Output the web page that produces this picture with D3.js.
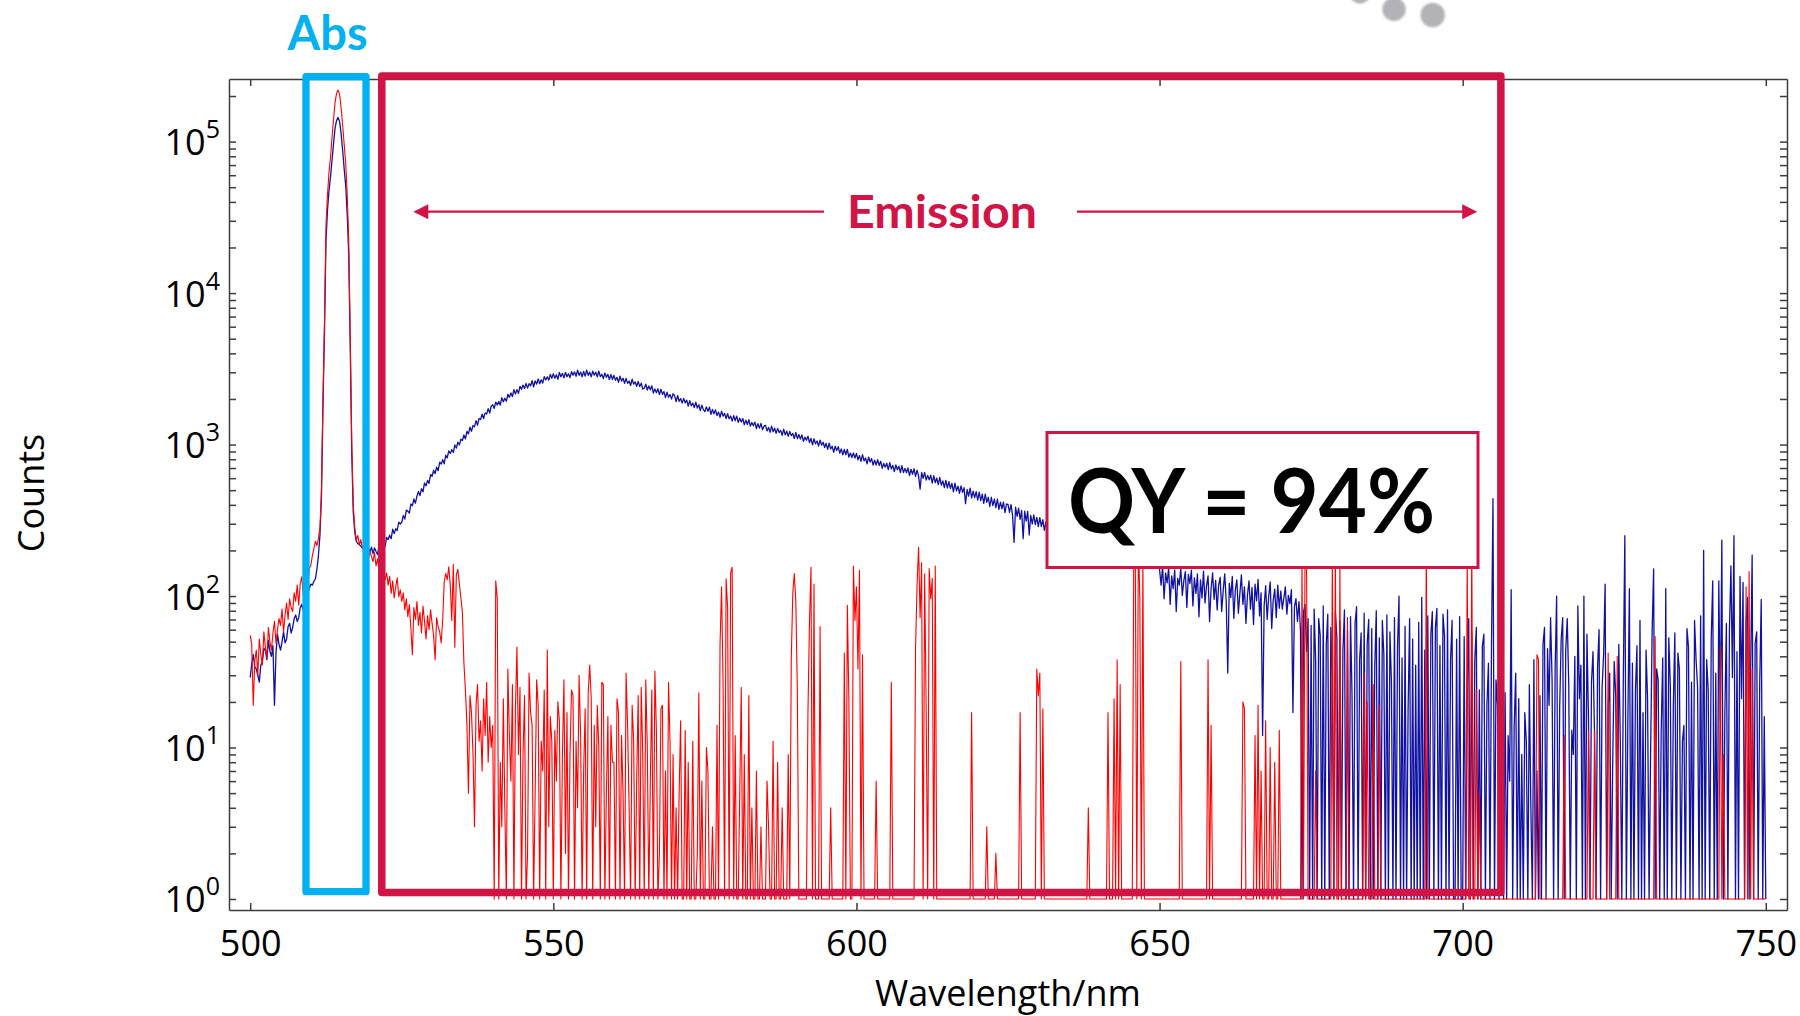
<!DOCTYPE html>
<html>
<head>
<meta charset="utf-8">
<script src="https://cdn.jsdelivr.net/npm/d3@7"></script>
<style>
  html, body { margin: 0; padding: 0; background: #ffffff; }
  svg { display: block; }
</style>
</head>
<body>
<svg id="chart" width="1800" height="1016"></svg>
<script>
// Spectrometer sampling grid (nm)
const startNm = 500;
const stepNm = 0.25;

// Sample spectrum (scattered excitation + emission), counts per channel, 500–750 nm
const sampleCounts = [
  29, 36, 41, 34, 33, 30, 27, 35, 37, 45, 44, 38, 51, 43, 40, 47, 19, 42, 56, 48,
  44, 50, 58, 49, 52, 63, 66, 57, 62, 71, 75, 68, 72, 84, 88, 80, 95, 102, 105, 112,
  120, 118, 125, 130, 150, 185, 251, 447, 1778, 5623, 22390, 35480, 47860, 58880, 75860, 97720, 123000, 138000, 144500, 134900,
  112200, 87100, 66070, 51290, 33110, 17780, 4467, 891, 355, 263, 230, 222, 218, 214, 208, 211, 204, 198, 207, 196,
  210, 191, 208, 197, 188, 216, 224, 206, 223, 212, 244, 236, 252, 239, 276, 259, 278, 271, 307, 299,
  307, 340, 322, 369, 363, 353, 405, 395, 438, 410, 456, 490, 460, 511, 487, 558, 534, 580, 554, 634,
  618, 676, 642, 709, 673, 764, 743, 794, 746, 850, 816, 909, 873, 926, 886, 993, 948, 1036, 994, 1086,
  1063, 1156, 1091, 1222, 1178, 1302, 1225, 1338, 1309, 1438, 1342, 1488, 1464, 1590, 1487, 1617, 1590, 1726, 1613, 1790,
  1831, 1733, 1905, 1823, 1926, 1820, 2042, 1915, 2024, 1932, 2148, 2054, 2192, 2074, 2303, 2159, 2304, 2178, 2421, 2316,
  2471, 2344, 2533, 2357, 2523, 2443, 2638, 2408, 2635, 2504, 2708, 2523, 2679, 2542, 2808, 2670, 2803, 2661, 2908, 2735,
  2931, 2740, 2889, 2698, 2993, 2801, 2952, 2760, 2999, 2805, 2929, 2763, 3033, 2866, 3020, 2822, 3095, 2862, 3010, 2803,
  3040, 2833, 3099, 2862, 3010, 2798, 3054, 2871, 3008, 2796, 3048, 2806, 2913, 2725, 2966, 2779, 2905, 2691, 2898, 2688,
  2864, 2656, 2776, 2572, 2827, 2622, 2741, 2539, 2735, 2537, 2626, 2456, 2699, 2504, 2591, 2425, 2612, 2415, 2543, 2326,
  2354, 2502, 2291, 2436, 2298, 2441, 2190, 2331, 2198, 2336, 2138, 2318, 2145, 2235, 2044, 2218, 2052, 2139, 1996, 2164,
  2103, 1924, 2107, 1930, 2012, 1878, 2018, 1885, 1964, 1796, 1950, 1803, 1880, 1754, 1903, 1742, 1834, 1678, 1821, 1701,
  1649, 1773, 1659, 1764, 1585, 1705, 1594, 1696, 1554, 1639, 1515, 1662, 1540, 1607, 1486, 1598, 1479, 1544, 1428, 1552,
  1435, 1542, 1401, 1492, 1410, 1486, 1348, 1451, 1358, 1460, 1325, 1398, 1334, 1406, 1276, 1374, 1284, 1381, 1254, 1323,
  1340, 1230, 1298, 1203, 1322, 1214, 1282, 1188, 1279, 1199, 1240, 1149, 1262, 1159, 1225, 1135, 1222, 1145, 1184, 1097,
  1205, 1093, 1165, 1088, 1159, 1051, 1120, 1068, 1136, 1031, 1098, 995, 1092, 1012, 1056, 976, 1071, 992, 1035, 957,
  1019, 931, 1021, 935, 974, 890, 977, 912, 969, 878, 935, 855, 928, 857, 930, 826, 879, 821, 881, 815,
  874, 793, 846, 774, 859, 780, 815, 745, 827, 766, 808, 733, 790, 731, 794, 728, 776, 697, 751, 709,
  753, 684, 759, 691, 729, 662, 735, 682, 720, 654, 725, 653, 696, 652, 701, 624, 687, 637, 692, 617,
  678, 621, 508, 654, 599, 656, 582, 626, 585, 628, 557, 623, 560, 601, 544, 608, 540, 575, 520, 581,
  516, 570, 513, 555, 488, 556, 495, 531, 477, 533, 483, 519, 407, 505, 457, 515, 445, 492, 446, 489,
  430, 485, 427, 471, 409, 471, 415, 449, 390, 449, 395, 437, 384, 437, 373, 417, 377, 417, 355, 405,
  403, 357, 402, 342, 226, 386, 336, 381, 321, 367, 239, 363, 312, 362, 253, 341, 299, 343, 296, 331,
  287, 329, 287, 319, 271, 308, 268, 305, 259, 295, 256, 291, 250, 285, 245, 278, 239, 272, 233, 265,
  255, 236, 250, 231, 246, 227, 241, 222, 238, 219, 233, 215, 229, 212, 226, 209, 222, 206, 218, 203,
  214, 196, 208, 191, 203, 186, 199, 182, 195, 179, 191, 176, 188, 172, 185, 170, 181, 168, 178, 166,
  180, 164, 176, 161, 172, 159, 170, 158, 168, 160, 165, 157, 171, 162, 166, 158, 163, 160, 167, 159,
  150, 118, 158, 96, 142, 122, 154, 88, 136, 112, 149, 79, 131, 118, 153, 101, 126, 145, 84, 139,
  121, 148, 86, 132, 104, 140, 73, 128, 97, 146, 90, 117, 136, 68, 112, 142, 95, 127, 81, 118,
  133, 79, 109, 140, 92, 31, 121, 98, 135, 71, 110, 128, 77, 104, 138, 88, 115, 66, 101, 126,
  82, 114, 65, 120, 93, 129, 74, 105, 12, 86, 117, 70, 99, 124, 61, 94, 111, 72, 118, 83,
  108, 82, 97, 115, 76, 101, 89, 110, 17, 85, 96, 68, 92, 58, 0, 79, 88, 43, 71, 0,
  64, 0, 82, 37, 0, 71, 55, 0, 86, 0, 48, 76, 0, 62, 29, 0, 79, 53, 0, 68,
  0, 44, 81, 0, 59, 0, 73, 22, 0, 66, 85, 0, 38, 57, 0, 77, 0, 49, 70, 0,
  61, 0, 34, 80, 0, 53, 0, 69, 41, 0, 75, 0, 58, 27, 0, 72, 0, 46, 100, 0,
  39, 0, 63, 0, 18, 71, 0, 52, 0, 35, 0, 67, 0, 98, 0, 44, 0, 74, 0, 56,
  79, 0, 62, 83, 0, 47, 0, 76, 55, 0, 81, 0, 38, 69, 0, 0, 52, 0, 73, 0,
  0, 54, 0, 23, 71, 0, 57, 0, 38, 62, 0, 24, 0, 47, 56, 0, 19, 36, 0, 44,
  440, 0, 28, 19, 0, 8, 41, 0, 23, 0, 12, 6, 110, 0, 14, 31, 0, 21, 0, 9,
  0, 17, 11, 0, 26, 4, 0, 38, 0, 7, 0, 22, 0, 48, 62, 0, 45, 19, 72, 28,
  0, 33, 100, 0, 18, 52, 72, 0, 44, 71, 26, 0, 13, 9, 40, 0, 86, 21, 35, 0,
  100, 0, 56, 16, 0, 27, 43, 12, 0, 34, 60, 0, 25, 41, 120, 0, 18, 31, 0, 8,
  37, 22, 0, 48, 11, 0, 29, 250, 0, 15, 112, 0, 36, 0, 24, 47, 0, 69, 0, 17,
  0, 44, 21, 0, 9, 58, 151, 0, 33, 28, 0, 13, 39, 0, 112, 0, 53, 26, 0, 19,
  57, 0, 42, 33, 0, 11, 14, 0, 61, 46, 0, 27, 0, 69, 38, 25, 0, 74, 0, 200,
  0, 38, 24, 0, 52, 126, 0, 31, 0, 126, 15, 234, 0, 17, 66, 0, 59, 158, 29, 250,
  0, 43, 0, 135, 21, 123, 0, 67, 98, 0, 32, 186, 0, 49, 58, 0, 27, 95, 0, 16,
  0
];

// Blank (solvent) reference spectrum, same grid
const blankCounts = [
  55, 48, 19, 37, 44, 30, 52, 41, 35, 58, 46, 39, 62, 50, 44, 57, 68, 49, 60, 71,
  64, 82, 58, 75, 90, 70, 96, 84, 79, 105, 92, 118, 87, 121, 134, 102, 128, 140, 118, 152,
  160, 185, 205, 230, 215, 240, 282, 501, 1995, 6310, 28180, 44670, 63100, 79430, 107200, 141300, 182000, 208900, 218800, 204200,
  166000, 128800, 95500, 72400, 44670, 22390, 5010, 1000, 398, 282, 234, 251, 218, 236, 205, 222, 191, 210, 178, 196,
  182, 169, 194, 158, 176, 149, 165, 138, 152, 128, 142, 118, 135, 104, 126, 97, 115, 132, 99, 110,
  92, 105, 81, 96, 73, 88, 61, 41, 84, 70, 92, 64, 78, 57, 86, 68, 52, 74, 60, 81,
  66, 55, 38, 72, 63, 58, 49, 70, 124, 141, 128, 156, 118, 69, 162, 46, 138, 150, 121, 97,
  78, 36, 24, 14, 5, 22, 17, 9, 3, 19, 26, 11, 15, 7, 21, 12, 27, 8, 16, 10,
  14, 0, 126, 97, 0, 8, 3, 21, 4, 0, 33, 12, 6, 26, 0, 18, 46, 9, 25, 0,
  9, 22, 0, 2, 31, 17, 14, 0, 5, 28, 19, 0, 11, 7, 24, 0, 44, 3, 16, 11,
  0, 13, 6, 20, 15, 0, 9, 28, 2, 17, 0, 9, 24, 22, 0, 11, 4, 30, 12, 0,
  7, 18, 0, 23, 35, 21, 0, 14, 3, 19, 10, 0, 27, 26, 0, 5, 16, 0, 14, 8,
  8, 0, 21, 17, 0, 12, 5, 0, 31, 14, 4, 0, 19, 11, 0, 6, 22, 0, 25, 9,
  0, 28, 10, 0, 6, 24, 0, 32, 13, 0, 2, 18, 19, 0, 7, 0, 27, 11, 0, 9,
  0, 4, 0, 5, 15, 0, 0, 13, 0, 8, 0, 0, 11, 0, 0, 2, 23, 0, 6, 0,
  0, 10, 7, 0, 0, 3, 0, 0, 14, 0, 48, 115, 26, 0, 130, 84, 0, 142, 155, 0,
  12, 0, 0, 5, 25, 0, 9, 0, 0, 22, 0, 4, 0, 0, 7, 0, 0, 3, 0, 0,
  0, 6, 3, 0, 0, 11, 0, 0, 8, 0, 0, 4, 0, 0, 0, 9, 0, 38, 105, 141,
  92, 24, 0, 0, 0, 0, 0, 0, 17, 66, 155, 0, 120, 0, 0, 0, 63, 0, 0, 0,
  0, 0, 0, 4, 0, 0, 0, 0, 0, 0, 0, 0, 42, 0, 87, 21, 0, 0, 158, 69,
  115, 33, 148, 0, 41, 0, 0, 0, 0, 0, 0, 0, 0, 6, 0, 0, 0, 0, 0, 0,
  0, 0, 0, 27, 0, 0, 0, 0, 0, 0, 0, 0, 0, 0, 0, 0, 0, 0, 0, 45,
  118, 210, 72, 166, 0, 140, 18, 0, 152, 96, 131, 0, 158, 0, 0, 0, 0, 0, 0, 0,
  0, 0, 0, 0, 0, 0, 0, 0, 0, 0, 0, 0, 0, 0, 0, 0, 17, 0, 0, 0,
  0, 0, 0, 0, 0, 0, 3, 0, 0, 0, 0, 0, 2, 0, 0, 0, 0, 0, 0, 0,
  0, 0, 0, 0, 0, 0, 0, 0, 17, 0, 0, 0, 0, 0, 0, 0, 0, 0, 0, 33,
  22, 31, 0, 18, 0, 0, 0, 0, 0, 0, 0, 0, 0, 0, 0, 0, 0, 0, 0, 0,
  0, 0, 0, 0, 0, 0, 0, 0, 0, 0, 0, 0, 0, 4, 0, 0, 0, 0, 0, 0,
  0, 0, 0, 0, 0, 0, 17, 0, 0, 0, 21, 0, 38, 0, 26, 0, 0, 0, 0, 0,
  0, 0, 0, 210, 175, 0, 240, 96, 0, 185, 0, 0, 0, 0, 0, 0, 0, 0, 0, 0,
  0, 0, 0, 0, 0, 0, 0, 0, 0, 0, 0, 0, 0, 0, 37, 0, 0, 0, 0, 0,
  0, 0, 0, 0, 0, 0, 0, 0, 0, 0, 0, 0, 38, 0, 14, 0, 0, 0, 0, 0,
  0, 0, 0, 0, 0, 0, 0, 0, 0, 0, 0, 0, 0, 0, 0, 20, 18, 0, 0, 0,
  0, 0, 0, 12, 0, 19, 0, 7, 0, 0, 15, 0, 0, 10, 0, 0, 8, 0, 0, 13,
  0, 0, 0, 0, 0, 0, 0, 0, 0, 0, 0, 0, 0, 0, 175, 0, 210, 165, 0, 0,
  0, 0, 0, 7, 0, 0, 0, 0, 0, 0, 0, 0, 0, 0, 190, 0, 205, 0, 0, 160,
  0, 0, 0, 0, 72, 0, 0, 0, 0, 0, 0, 0, 0, 0, 0, 31, 0, 20, 0, 0,
  0, 26, 0, 0, 0, 19, 0, 0, 0, 0, 0, 0, 0, 0, 0, 0, 0, 0, 0, 0,
  0, 0, 0, 0, 0, 0, 0, 0, 0, 0, 0, 0, 0, 0, 0, 0, 220, 0, 0, 0,
  0, 0, 0, 0, 0, 0, 0, 0, 0, 0, 0, 0, 0, 0, 0, 0, 0, 0, 0, 0,
  0, 0, 0, 190, 0, 0, 230, 0, 0, 24, 0, 5, 0, 0, 0, 0, 0, 0, 0, 0,
  0, 0, 0, 0, 0, 0, 0, 0, 0, 0, 0, 0, 0, 0, 0, 0, 0, 0, 0, 0,
  0, 0, 0, 0, 0, 0, 0, 0, 0, 41, 38, 0, 0, 0, 0, 0, 0, 0, 0, 0,
  0, 0, 0, 0, 0, 0, 0, 12, 0, 0, 0, 0, 0, 0, 0, 0, 0, 0, 0, 0,
  0, 0, 0, 13, 0, 0, 0, 13, 0, 0, 0, 0, 0, 0, 0, 0, 42, 0, 0, 0,
  0, 0, 40, 0, 0, 0, 0, 0, 0, 0, 0, 0, 0, 0, 0, 0, 0, 0, 0, 0,
  0, 0, 0, 0, 0, 0, 0, 54, 0, 0, 0, 0, 0, 0, 0, 0, 0, 0, 0, 0,
  0, 0, 0, 0, 0, 0, 0, 0, 0, 0, 0, 0, 0, 0, 0, 0, 0, 0, 0, 0,
  0, 0, 0, 0, 0, 0, 0, 0, 0, 0, 46, 0, 9, 0, 0, 0, 0, 0, 0, 0,
  0, 0, 0, 0, 0, 0, 0, 115, 0, 145, 0, 33, 0, 0, 0, 0, 0, 0, 0, 0,
  0
];

// Axis ticks
const xTickValues = [500, 550, 600, 650, 700, 750];
const yDecades = [0, 1, 2, 3, 4, 5];

// Integration windows and annotation text
const absWindowNm = [509.2, 519.1];
const emissionWindowNm = [521.7, 706.3];
const emissionArrowNm = [526.9, 702.4];
const qyText = "QY = 94%";

// ---------------------------------------------------------------------------
const crimson = "#d01446";
const skyBlue = "#00b0f0";
const axisInk = "#3d3d3d";
const labelFont = "'Open Sans', 'Noto Sans', sans-serif";
const calloutFont = "Lato, 'Open Sans', sans-serif";

const plot = { left: 229, right: 1787, top: 79, bottom: 910 };

const svg = d3.select("#chart");

const x = d3.scaleLinear().domain([496.5, 753.5]).range([plot.left, plot.right]);
const y = d3.scaleLog().domain([0.846, 2.59e5]).range([plot.bottom, plot.top]);

// faint grey dots along the top edge
const defs = svg.append("defs");
defs.append("filter").attr("id", "soft")
  .append("feGaussianBlur").attr("stdDeviation", 1.3);
defs.append("clipPath").attr("id", "plotClip")
  .append("rect")
  .attr("x", plot.left).attr("y", plot.top)
  .attr("width", plot.right - plot.left).attr("height", plot.bottom - plot.top);

svg.append("g").attr("filter", "url(#soft)").attr("fill", "#b3b3b7")
  .selectAll("circle")
  .data([[1360, -7, 10.5], [1394, 9.3, 11.7], [1432.7, 15, 12.2]])
  .join("circle")
  .attr("cx", d => d[0]).attr("cy", d => d[1]).attr("r", d => d[2]);

// spectra — empty channels rest on the 10^0 baseline
const wavelengthAt = i => startNm + i * stepNm;
const spectrumLine = d3.line()
  .x((d, i) => x(wavelengthAt(i)))
  .y(d => y(Math.max(d, 1)));

const traces = svg.append("g").attr("clip-path", "url(#plotClip)")
  .attr("fill", "none").attr("stroke-linejoin", "round");
traces.append("path").datum(sampleCounts)
  .attr("d", spectrumLine).attr("stroke", "#1212a2").attr("stroke-width", 1.3);
traces.append("path").datum(blankCounts)
  .attr("d", spectrumLine).attr("stroke", "#ff0000").attr("stroke-width", 1.1);

// axes: ticks point inward on all four sides
const yTickValues = [];
yDecades.forEach(p => {
  for (let k = 1; k <= 9; k++) {
    const v = k * Math.pow(10, p);
    if (v <= y.domain()[1]) yTickValues.push(v);
  }
});
const isDecade = v => Math.abs(Math.log10(v) - Math.round(Math.log10(v))) < 1e-9;

function styleAxis(g) {
  g.attr("font-family", labelFont).attr("font-size", 36);
  g.select(".domain").attr("stroke", axisInk).attr("stroke-width", 1.5);
  g.selectAll(".tick line").attr("stroke", axisInk).attr("stroke-width", 1.5);
  g.selectAll(".tick text").attr("fill", "#000");
}

svg.append("g").attr("transform", `translate(0,${plot.bottom})`)
  .call(d3.axisBottom(x).tickValues(xTickValues).tickSizeInner(-7).tickSizeOuter(0)
    .tickPadding(20).tickFormat(d3.format("d")))
  .call(styleAxis);

svg.append("g").attr("transform", `translate(0,${plot.top})`)
  .call(d3.axisTop(x).tickValues(xTickValues).tickSizeInner(-7).tickSizeOuter(0).tickFormat(""))
  .call(styleAxis);

svg.append("g").attr("transform", `translate(${plot.right},0)`)
  .call(d3.axisRight(y).tickValues(yTickValues).tickSizeInner(-7).tickSizeOuter(0).tickFormat(""))
  .call(styleAxis);

const gLeft = svg.append("g").attr("transform", `translate(${plot.left},0)`)
  .call(d3.axisLeft(y).tickValues(yTickValues).tickSizeInner(-7).tickSizeOuter(0)
    .tickPadding(9).tickFormat(""))
  .call(styleAxis);

gLeft.selectAll(".tick").filter(d => isDecade(d)).select("text")
  .each(function (d) {
    const t = d3.select(this).attr("dy", null).attr("y", 13);
    t.append("tspan").text("10");
    t.append("tspan").attr("font-size", 25).attr("dy", -17)
      .text(Math.round(Math.log10(d)));
  });

// axis titles
svg.append("text")
  .attr("x", 1008).attr("y", 1005.5)
  .attr("text-anchor", "middle")
  .attr("font-family", labelFont).attr("font-size", 36).attr("fill", "#000")
  .text("Wavelength/nm");

svg.append("text")
  .attr("transform", "translate(43.5,493) rotate(-90)")
  .attr("text-anchor", "middle")
  .attr("font-family", labelFont).attr("font-size", 36).attr("fill", "#000")
  .text("Counts");

// integration windows
svg.append("rect")
  .attr("x", x(absWindowNm[0])).attr("y", 76.7)
  .attr("width", x(absWindowNm[1]) - x(absWindowNm[0])).attr("height", 815)
  .attr("fill", "none").attr("stroke", skyBlue).attr("stroke-width", 7.3)
  .attr("stroke-linejoin", "round");

svg.append("rect")
  .attr("x", x(emissionWindowNm[0])).attr("y", 76)
  .attr("width", x(emissionWindowNm[1]) - x(emissionWindowNm[0])).attr("height", 816.5)
  .attr("fill", "none").attr("stroke", crimson).attr("stroke-width", 7.5)
  .attr("stroke-linejoin", "round");

svg.append("text")
  .attr("x", 327.6).attr("y", 50)
  .attr("text-anchor", "middle")
  .attr("font-family", calloutFont).attr("font-weight", 700).attr("font-size", 47)
  .attr("fill", skyBlue)
  .attr("textLength", 80).attr("lengthAdjust", "spacingAndGlyphs")
  .text("Abs");

// double-headed arrow spanning the emission window
const arrowY = 211.7;
const arrowL = x(emissionArrowNm[0]);
const arrowR = x(emissionArrowNm[1]);
const headLen = 15, headHalf = 7.5;
const arrow = svg.append("g").attr("stroke", crimson).attr("fill", crimson);
arrow.append("line").attr("x1", arrowL + headLen - 1).attr("x2", 824)
  .attr("y1", arrowY).attr("y2", arrowY).attr("stroke-width", 2.2);
arrow.append("line").attr("x1", 1077).attr("x2", arrowR - headLen + 1)
  .attr("y1", arrowY).attr("y2", arrowY).attr("stroke-width", 2.2);
arrow.append("path").attr("stroke", "none")
  .attr("d", `M${arrowL},${arrowY} L${arrowL + headLen},${arrowY - headHalf} L${arrowL + headLen},${arrowY + headHalf} Z`);
arrow.append("path").attr("stroke", "none")
  .attr("d", `M${arrowR},${arrowY} L${arrowR - headLen},${arrowY - headHalf} L${arrowR - headLen},${arrowY + headHalf} Z`);

svg.append("text")
  .attr("x", 942).attr("y", 228)
  .attr("text-anchor", "middle")
  .attr("font-family", calloutFont).attr("font-weight", 700).attr("font-size", 46)
  .attr("fill", crimson)
  .attr("textLength", 190).attr("lengthAdjust", "spacingAndGlyphs")
  .text("Emission");

// quantum-yield callout
svg.append("rect")
  .attr("x", 1047).attr("y", 432.5).attr("width", 431).attr("height", 135)
  .attr("fill", "#ffffff").attr("stroke", crimson).attr("stroke-width", 3);

svg.append("text")
  .attr("x", 1251.5).attr("y", 533.3)
  .attr("text-anchor", "middle")
  .attr("font-family", calloutFont).attr("font-weight", 700).attr("font-size", 90)
  .attr("fill", "#000")
  .attr("textLength", 367).attr("lengthAdjust", "spacingAndGlyphs")
  .text(qyText);
</script>
</body>
</html>
